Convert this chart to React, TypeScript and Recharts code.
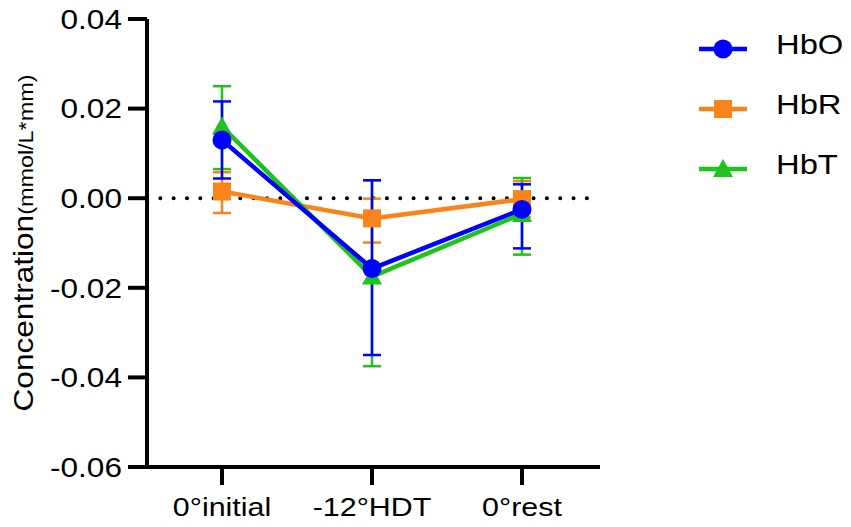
import React from 'react';
import { LineChart, Line, XAxis, YAxis, ErrorBar, ReferenceLine, Legend } from 'recharts';

const categories = ['0°initial', '-12°HDT', '0°rest'];
const hboValues = [0.013, -0.0157, -0.0025];
const hboErrors: [number, number][] = [[0.0086, 0.0086], [0.0193, 0.0197], [0.0087, 0.0056]];
const hbrValues = [0.0015, -0.0045, -0.0002];
const hbrErrors: [number, number][] = [[0.0048, 0.0043], [0.0054, 0.0044], [0.004, 0.004]];
const hbtValues = [0.016, -0.0175, -0.0035];
const hbtErrors: [number, number][] = [[0.0095, 0.009], [0.02, 0.0215], [0.0091, 0.008]];
const yTicks = [-0.06, -0.04, -0.02, 0, 0.02, 0.04];

const legendOrder = ['HbO', 'HbR', 'HbT'];
const colors: Record<string, string> = { HbO: '#0000ff', HbR: '#fa8419', HbT: '#1ec31e' };
const shapes: Record<string, string> = { HbO: 'circle', HbR: 'square', HbT: 'triangle' };

const data = categories.map((name, i) => ({
  name,
  HbO: hboValues[i],
  HbOErr: hboErrors[i],
  HbR: hbrValues[i],
  HbRErr: hbrErrors[i],
  HbT: hbtValues[i],
  HbTErr: hbtErrors[i],
}));

const FONT = '"Liberation Sans", Arial, sans-serif';
const STRETCH = 1.17;

function marker(shape: string, cx: number, cy: number, color: string, key?: any) {
  if (shape === 'circle') return <circle key={key} cx={cx} cy={cy} r={9.5} fill={color} />;
  if (shape === 'square') return <rect key={key} x={cx - 9} y={cy - 9} width={18} height={18} fill={color} />;
  return (
    <polygon
      key={key}
      points={`${cx},${cy - 10} ${cx - 10},${cy + 8} ${cx + 10},${cy + 8}`}
      fill={color}
    />
  );
}

const makeDot = (series: string) => (props: any) => {
  const { cx, cy, index } = props;
  if (cx == null || cy == null) return <g key={`${series}-${index}`} />;
  return marker(shapes[series], cx, cy, colors[series], `${series}-${index}`);
};

const YTick = (props: any) => {
  const { x, y, payload } = props;
  return (
    <g transform={`translate(${x},${y})`}>
      <text
        transform={`scale(${STRETCH},1)`}
        textAnchor="end"
        dy="0.36em"
        fontSize={27}
        fontFamily={FONT}
        fill="#000"
      >
        {Number(payload.value).toFixed(2)}
      </text>
    </g>
  );
};

const XTick = (props: any) => {
  const { x, y, payload } = props;
  return (
    <g transform={`translate(${x},${y})`}>
      <text
        transform={`scale(${STRETCH},1)`}
        textAnchor="middle"
        dy={31}
        fontSize={26}
        fontFamily={FONT}
        fill="#000"
      >
        {payload.value}
      </text>
    </g>
  );
};

const YLabel = (props: any) => {
  const vb = props.viewBox || { x: 0, y: 19, width: 147, height: 448 };
  const cy = vb.y + vb.height / 2;
  return (
    <text
      transform={`translate(33,${cy}) rotate(-90) scale(${STRETCH},1)`}
      textAnchor="middle"
      fontFamily={FONT}
      fill="#000"
    >
      <tspan fontSize={27}>Concentration</tspan>
      <tspan fontSize={20}>(mmol/L*mm)</tspan>
    </text>
  );
};

const LegendContent = (props: any) => {
  const payload: any[] = props.payload || [];
  const items = legendOrder
    .map((n) => payload.find((p) => p.value === n || p.dataKey === n))
    .filter(Boolean);
  return (
    <svg width={161} height={190} style={{ display: 'block' }}>
      {items.map((p: any, i: number) => {
        const name = p.value;
        const cy = 29 + 60 * i;
        const color = colors[name];
        return (
          <g key={name}>
            <line x1={9} x2={57} y1={cy} y2={cy} stroke={color} strokeWidth={4.5} />
            {marker(shapes[name], 33, cy, color)}
            <text
              transform={`translate(86,${cy + 5}) scale(${STRETCH},1)`}
              fontSize={28}
              fontFamily={FONT}
              fill="#000"
            >
              {name}
            </text>
          </g>
        );
      })}
    </svg>
  );
};

const seriesDrawOrder = ['HbR', 'HbT', 'HbO'];

export default function App() {
  return (
    <div style={{ position: 'absolute', left: 0, top: 0, width: 851, height: 527, background: '#fff' }}>
      <LineChart
        width={851}
        height={527}
        data={data}
        margin={{ top: 19, right: 251, bottom: 0, left: 0 }}
      >
        <XAxis
          dataKey="name"
          type="category"
          interval={0}
          padding={{ left: 75, right: 78 }}
          height={60}
          tickSize={18}
          tickMargin={0}
          axisLine={{ stroke: '#000', strokeWidth: 4 }}
          tickLine={{ stroke: '#000', strokeWidth: 4 }}
          tick={<XTick />}
        />
        <YAxis
          type="number"
          domain={[-0.06, 0.04]}
          ticks={yTicks}
          allowDataOverflow
          width={147}
          tickSize={19}
          tickMargin={6}
          axisLine={{ stroke: '#000', strokeWidth: 4 }}
          tickLine={{ stroke: '#000', strokeWidth: 4 }}
          tick={<YTick />}
          label={{ content: <YLabel /> }}
        />
        <ReferenceLine
          y={0}
          stroke="#000"
          strokeWidth={4}
          strokeDasharray="0 13.33"
          strokeLinecap="round"
        />
        {seriesDrawOrder.map((s) => (
          <Line
            key={s}
            type="linear"
            dataKey={s}
            name={s}
            stroke={colors[s]}
            strokeWidth={4.5}
            dot={makeDot(s)}
            activeDot={false}
            isAnimationActive={false}
          >
            <ErrorBar
              dataKey={`${s}Err`}
              direction="y"
              width={9}
              strokeWidth={2.5}
              stroke={colors[s]}
              isAnimationActive={false}
            />
          </Line>
        ))}
        <Legend
          content={<LegendContent />}
          layout="vertical"
          verticalAlign="middle"
          align="center"
          wrapperStyle={{ position: 'absolute', left: 690, top: 20, width: 161, height: 190 }}
        />
      </LineChart>
    </div>
  );
}
